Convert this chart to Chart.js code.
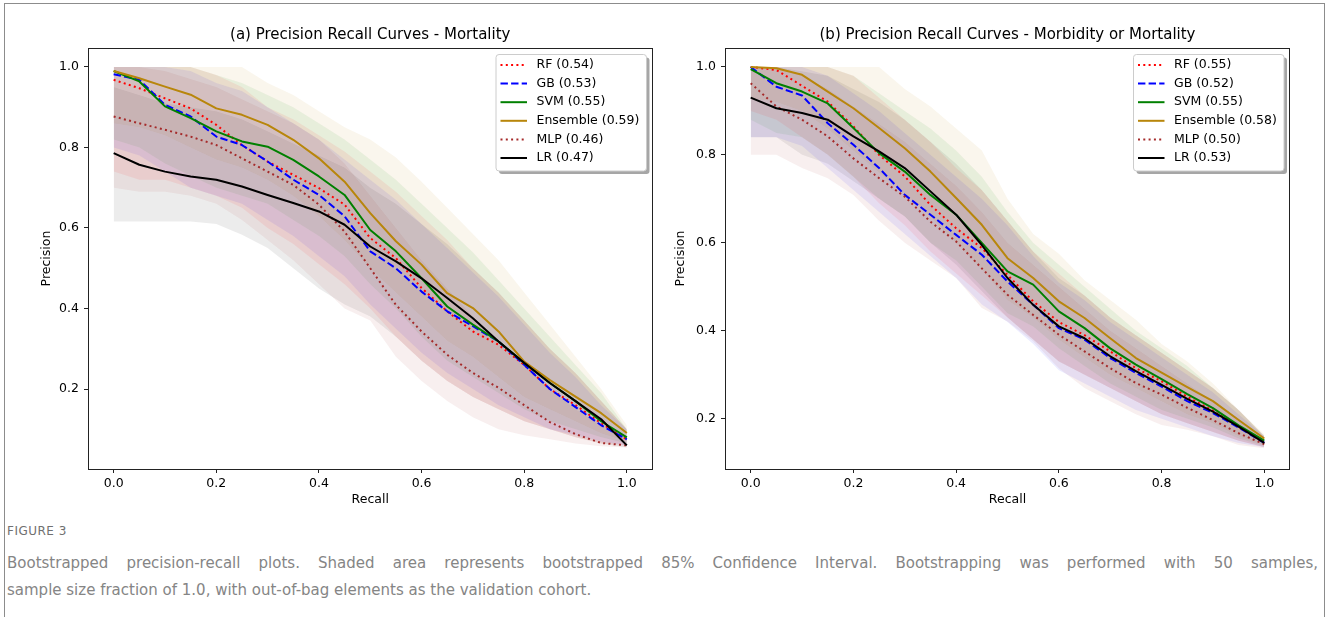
<!DOCTYPE html>
<html>
<head>
<meta charset="utf-8">
<script src="https://cdn.jsdelivr.net/npm/chart.js@4.4.1/dist/chart.umd.min.js"></script>
<style>
  body { margin: 0; background: #fff; width: 1328px; height: 617px; overflow: hidden; position: relative; }
  #frame { position: absolute; left: 4px; top: 3px; width: 1321px; height: 700px; border: 1px solid #8c8c8c; box-sizing: border-box; }
  canvas { position: absolute; top: 0; }
  #figLabel { position: absolute; left: 7px; top: 523px; font-family: "DejaVu Sans", sans-serif; font-size: 12px; line-height: 16px; color: #707070; letter-spacing: 0.5px; }
  #caption { position: absolute; left: 7px; top: 550px; width: 1311px; font-family: "DejaVu Sans", sans-serif; font-size: 15px; line-height: 27px; color: #858585; }
  #caption .l1 { text-align: justify; text-align-last: justify; white-space: nowrap; }
</style>
</head>
<body>
<div id="frame"></div>
<canvas id="chartA" width="664" height="517" style="left:0"></canvas>
<canvas id="chartB" width="664" height="517" style="left:664px"></canvas>
<div id="figLabel">FIGURE 3</div>
<div id="caption">
  <div class="l1">Bootstrapped precision-recall plots. Shaded area represents bootstrapped 85% Confidence Interval. Bootstrapping was performed with 50 samples,</div>
  <div>sample size fraction of 1.0, with out-of-bag elements as the validation cohort.</div>
</div>
<script>
// recall grid shared by every curve
const recall = [0, 0.05, 0.1, 0.15, 0.2, 0.25, 0.3, 0.35, 0.4, 0.45, 0.5, 0.55, 0.6, 0.65, 0.7, 0.75, 0.8, 0.85, 0.9, 0.95, 1.0];

const models = ['RF', 'GB', 'SVM', 'Ensemble', 'MLP', 'LR'];
const aucA = [0.54, 0.53, 0.55, 0.59, 0.46, 0.47];
const aucB = [0.55, 0.52, 0.55, 0.58, 0.50, 0.53];

// (a) Mortality - mean precision
const aRF  = [0.968, 0.947, 0.922, 0.897, 0.856, 0.806, 0.765, 0.732, 0.699, 0.658, 0.575, 0.525, 0.451, 0.393, 0.343, 0.310, 0.260, 0.200, 0.160, 0.115, 0.075];
const aGB  = [0.982, 0.968, 0.906, 0.877, 0.827, 0.806, 0.765, 0.720, 0.682, 0.629, 0.542, 0.500, 0.442, 0.393, 0.356, 0.318, 0.260, 0.200, 0.155, 0.110, 0.075];
const aSVM = [0.990, 0.964, 0.902, 0.873, 0.840, 0.815, 0.802, 0.769, 0.728, 0.682, 0.595, 0.542, 0.475, 0.405, 0.360, 0.318, 0.265, 0.215, 0.170, 0.120, 0.080];
const aEns = [0.990, 0.972, 0.951, 0.931, 0.897, 0.881, 0.856, 0.819, 0.773, 0.715, 0.637, 0.567, 0.509, 0.438, 0.401, 0.343, 0.268, 0.222, 0.181, 0.140, 0.091];
const aMLP = [0.877, 0.860, 0.844, 0.827, 0.806, 0.773, 0.740, 0.707, 0.658, 0.591, 0.500, 0.409, 0.343, 0.285, 0.240, 0.203, 0.160, 0.118, 0.088, 0.066, 0.060];
const aLR  = [0.786, 0.757, 0.740, 0.728, 0.720, 0.703, 0.682, 0.662, 0.641, 0.608, 0.554, 0.517, 0.475, 0.426, 0.376, 0.318, 0.265, 0.215, 0.170, 0.125, 0.060];

// (a) confidence bands
const aRFLo  = [0.74, 0.72, 0.72, 0.70, 0.68, 0.65, 0.60, 0.56, 0.51, 0.46, 0.40, 0.33, 0.27, 0.22, 0.18, 0.15, 0.12, 0.10, 0.08, 0.065, 0.06];
const aRFHi  = [1, 1, 1, 1, 0.98, 0.95, 0.90, 0.87, 0.83, 0.79, 0.74, 0.69, 0.63, 0.57, 0.50, 0.44, 0.37, 0.30, 0.24, 0.17, 0.10];
const aGBLo  = [0.80, 0.78, 0.74, 0.70, 0.68, 0.66, 0.62, 0.58, 0.53, 0.48, 0.41, 0.35, 0.29, 0.24, 0.20, 0.16, 0.13, 0.10, 0.085, 0.07, 0.06];
const aGBHi  = [1, 1, 1, 0.99, 0.96, 0.94, 0.90, 0.86, 0.82, 0.77, 0.72, 0.67, 0.61, 0.55, 0.49, 0.43, 0.36, 0.29, 0.23, 0.16, 0.10];
const aSVMLo = [0.82, 0.80, 0.76, 0.73, 0.70, 0.68, 0.66, 0.62, 0.58, 0.53, 0.46, 0.40, 0.33, 0.27, 0.23, 0.19, 0.15, 0.12, 0.10, 0.08, 0.065];
const aSVMHi = [1, 1, 1, 1, 0.98, 0.96, 0.93, 0.90, 0.86, 0.82, 0.77, 0.72, 0.66, 0.60, 0.54, 0.47, 0.40, 0.33, 0.26, 0.19, 0.10];
const aEnsLo = [0.86, 0.85, 0.83, 0.80, 0.77, 0.75, 0.72, 0.68, 0.63, 0.57, 0.50, 0.44, 0.38, 0.32, 0.28, 0.23, 0.18, 0.15, 0.12, 0.09, 0.07];
const aEnsHi = [1, 1, 1, 1, 1, 1, 0.96, 0.93, 0.89, 0.85, 0.82, 0.775, 0.715, 0.65, 0.585, 0.52, 0.44, 0.36, 0.28, 0.20, 0.11];
const aMLPLo = [0.70, 0.69, 0.69, 0.68, 0.66, 0.62, 0.57, 0.52, 0.46, 0.40, 0.37, 0.28, 0.22, 0.17, 0.13, 0.10, 0.085, 0.075, 0.065, 0.058, 0.055];
const aMLPHi = [1, 1, 0.99, 0.97, 0.95, 0.92, 0.89, 0.86, 0.82, 0.76, 0.68, 0.60, 0.52, 0.45, 0.38, 0.32, 0.26, 0.20, 0.15, 0.11, 0.08];
const aLRLo  = [0.616, 0.616, 0.616, 0.616, 0.61, 0.583, 0.55, 0.50, 0.45, 0.41, 0.38, 0.33, 0.27, 0.22, 0.18, 0.15, 0.12, 0.10, 0.08, 0.065, 0.055];
const aLRHi  = [0.95, 0.93, 0.91, 0.90, 0.89, 0.87, 0.84, 0.81, 0.78, 0.75, 0.70, 0.66, 0.61, 0.56, 0.50, 0.44, 0.37, 0.30, 0.24, 0.17, 0.10];

// (b) Morbidity or Mortality - mean precision
const bRF  = [1.000, 0.993, 0.957, 0.921, 0.865, 0.800, 0.751, 0.686, 0.633, 0.588, 0.527, 0.467, 0.420, 0.390, 0.353, 0.315, 0.285, 0.250, 0.218, 0.182, 0.148];
const bGB  = [1.000, 0.955, 0.935, 0.872, 0.823, 0.770, 0.709, 0.664, 0.618, 0.573, 0.512, 0.459, 0.406, 0.380, 0.338, 0.304, 0.273, 0.240, 0.213, 0.180, 0.145];
const bSVM = [0.995, 0.963, 0.944, 0.917, 0.861, 0.804, 0.762, 0.709, 0.664, 0.600, 0.535, 0.505, 0.444, 0.406, 0.360, 0.323, 0.290, 0.256, 0.224, 0.185, 0.150];
const bEns = [1.000, 0.997, 0.982, 0.944, 0.906, 0.861, 0.815, 0.762, 0.702, 0.641, 0.565, 0.520, 0.467, 0.429, 0.383, 0.338, 0.305, 0.272, 0.240, 0.197, 0.155];
const bMLP = [0.963, 0.910, 0.880, 0.842, 0.792, 0.747, 0.705, 0.648, 0.603, 0.542, 0.482, 0.436, 0.391, 0.353, 0.315, 0.281, 0.255, 0.225, 0.197, 0.167, 0.142];
const bLR  = [0.930, 0.906, 0.895, 0.880, 0.842, 0.808, 0.770, 0.717, 0.664, 0.595, 0.520, 0.459, 0.410, 0.383, 0.342, 0.308, 0.277, 0.245, 0.216, 0.182, 0.145];

// (b) confidence bands
const bRFLo  = [0.90, 0.88, 0.84, 0.80, 0.75, 0.69, 0.64, 0.58, 0.53, 0.48, 0.43, 0.38, 0.33, 0.30, 0.27, 0.24, 0.21, 0.19, 0.17, 0.15, 0.136];
const bRFHi  = [1, 1, 1, 1, 0.98, 0.93, 0.88, 0.83, 0.77, 0.72, 0.65, 0.58, 0.53, 0.48, 0.43, 0.39, 0.35, 0.31, 0.27, 0.22, 0.16];
const bGBLo  = [0.84, 0.84, 0.82, 0.77, 0.72, 0.67, 0.62, 0.57, 0.52, 0.46, 0.42, 0.37, 0.31, 0.28, 0.25, 0.22, 0.20, 0.18, 0.16, 0.145, 0.135];
const bGBHi  = [1, 1, 1, 0.98, 0.94, 0.90, 0.85, 0.80, 0.75, 0.70, 0.64, 0.57, 0.51, 0.47, 0.42, 0.38, 0.34, 0.30, 0.26, 0.21, 0.16];
const bSVMLo = [0.88, 0.85, 0.84, 0.80, 0.75, 0.70, 0.66, 0.60, 0.56, 0.50, 0.44, 0.41, 0.36, 0.32, 0.28, 0.25, 0.22, 0.20, 0.18, 0.155, 0.138];
const bSVMHi = [1, 1, 1, 1, 0.98, 0.94, 0.90, 0.86, 0.81, 0.75, 0.67, 0.60, 0.55, 0.50, 0.45, 0.40, 0.36, 0.32, 0.27, 0.22, 0.16];
const bEnsLo = [0.93, 0.92, 0.90, 0.86, 0.81, 0.76, 0.71, 0.66, 0.60, 0.54, 0.47, 0.43, 0.38, 0.34, 0.30, 0.27, 0.24, 0.21, 0.19, 0.16, 0.14];
const bEnsHi = [1, 1, 1, 1, 1, 1, 0.95, 0.91, 0.86, 0.81, 0.70, 0.62, 0.575, 0.515, 0.47, 0.425, 0.37, 0.33, 0.28, 0.22, 0.165];
const bMLPLo = [0.80, 0.80, 0.77, 0.747, 0.709, 0.65, 0.60, 0.56, 0.52, 0.452, 0.421, 0.376, 0.315, 0.27, 0.24, 0.21, 0.186, 0.175, 0.16, 0.14, 0.133];
const bMLPHi = [1, 1, 0.98, 0.95, 0.91, 0.87, 0.83, 0.78, 0.73, 0.67, 0.60, 0.55, 0.50, 0.45, 0.40, 0.36, 0.32, 0.28, 0.24, 0.20, 0.155];
const bLRLo  = [0.84, 0.84, 0.80, 0.78, 0.74, 0.70, 0.66, 0.60, 0.55, 0.49, 0.43, 0.38, 0.33, 0.30, 0.27, 0.24, 0.21, 0.19, 0.17, 0.15, 0.135];
const bLRHi  = [1, 1, 0.99, 0.98, 0.95, 0.92, 0.88, 0.83, 0.78, 0.72, 0.65, 0.58, 0.52, 0.48, 0.43, 0.39, 0.35, 0.31, 0.27, 0.22, 0.16];

const colors = ['#ff0000', '#0000ff', '#008000', '#b8860b', '#a52a2a', '#000000'];
const bandColors = ['rgba(255,0,0,0.075)', 'rgba(0,0,255,0.075)', 'rgba(0,128,0,0.075)', 'rgba(184,134,11,0.075)', 'rgba(165,42,42,0.075)', 'rgba(0,0,0,0.075)'];
const dashes = [[2, 3.3], [7.4, 3.2], [], [], [2, 3.3], []];

Chart.defaults.font.family = '"DejaVu Sans", sans-serif';
Chart.defaults.color = '#000';

function pts(ys) {
  return recall.map((r, i) => ({ x: r, y: ys[i] }));
}

// axes title drawn over the centre of the plot area, like matplotlib
const plotTitle = {
  id: 'plotTitle',
  afterDraw(chart, args, opts) {
    const { ctx, chartArea } = chart;
    ctx.save();
    ctx.font = '15px "DejaVu Sans"';
    ctx.fillStyle = '#000';
    ctx.textAlign = 'center';
    ctx.textBaseline = 'middle';
    ctx.fillText(opts.text, (chartArea.left + chartArea.right) / 2, 35);
    ctx.restore();
  }
};

// four spines + legend box in the upper right corner
const frameAndLegend = {
  id: 'frameAndLegend',
  afterDatasetsDraw(chart) {
    const { ctx, chartArea } = chart;
    ctx.save();
    ctx.strokeStyle = '#222';
    ctx.lineWidth = 1;
    ctx.strokeRect(Math.round(chartArea.left) + 0.5, Math.round(chartArea.top) + 0.5,
      Math.round(chartArea.right - chartArea.left) - 1, Math.round(chartArea.bottom - chartArea.top));
    ctx.restore();
  },
  afterDraw(chart, args, opts) {
    const { ctx, chartArea } = chart;
    const w = 150.5, h = 116.5;
    const x = chartArea.right - 6 - w, y = chartArea.top + 6.5;
    ctx.save();
    ctx.fillStyle = 'rgba(0,0,0,0.35)';
    ctx.beginPath(); ctx.roundRect(x + 3, y + 3, w, h, 3); ctx.fill();
    ctx.fillStyle = '#fff';
    ctx.strokeStyle = '#cccccc';
    ctx.lineWidth = 1;
    ctx.beginPath(); ctx.roundRect(x, y, w, h, 3); ctx.fill(); ctx.stroke();
    ctx.font = '12.5px "DejaVu Sans"';
    ctx.textBaseline = 'middle';
    ctx.textAlign = 'left';
    opts.labels.forEach((label, i) => {
      const cy = y + 10.5 + i * 18.6;
      ctx.strokeStyle = colors[i];
      ctx.lineWidth = 2;
      ctx.setLineDash(dashes[i]);
      ctx.beginPath(); ctx.moveTo(x + 4.5, cy); ctx.lineTo(x + 31, cy); ctx.stroke();
      ctx.fillStyle = '#000';
      ctx.fillText(label, x + 40.5, cy);
    });
    ctx.restore();
  }
};

function makeChart(id, title, lines, bands, auc, yMin, yMax, yWidth, yTitlePad, padRight) {
  const datasets = [];
  bands.forEach((b, i) => {
    datasets.push({ data: pts(b[0]), borderWidth: 0, pointRadius: 0, fill: false, order: 10 });
    datasets.push({ data: pts(b[1]), borderWidth: 0, pointRadius: 0, fill: '-1', backgroundColor: bandColors[i], order: 10 });
  });
  lines.forEach((ys, i) => {
    datasets.push({
      data: pts(ys),
      borderColor: colors[i],
      borderWidth: 2,
      borderDash: dashes[i],
      borderJoinStyle: 'round',
      pointRadius: 0,
      tension: 0,
      fill: false,
      order: 6 - i
    });
  });

  return new Chart(document.getElementById(id).getContext('2d'), {
    type: 'line',
    data: { datasets: datasets },
    options: {
      responsive: false,
      animation: false,
      devicePixelRatio: 1,
      layout: { padding: { top: 48, right: padRight, bottom: 0, left: 0 } },
      plugins: {
        legend: { display: false },
        tooltip: { enabled: false },
        plotTitle: { text: title },
        frameAndLegend: { labels: models.map((m, i) => m + ' (' + auc[i].toFixed(2) + ')') }
      },
      scales: {
        x: {
          type: 'linear',
          min: -0.05,
          max: 1.05,
          ticks: { stepSize: 0.2, includeBounds: false, padding: 3, maxRotation: 0, font: { size: 12.5 }, callback: v => v.toFixed(1) },
          grid: { drawOnChartArea: false, tickLength: 4, color: '#222' },
          border: { display: false },
          title: { display: true, text: 'Recall', font: { size: 12.5 }, padding: { top: 0, bottom: 9.5 } },
          afterFit: s => { s.height = 48; }
        },
        y: {
          min: yMin,
          max: yMax,
          ticks: { stepSize: 0.2, includeBounds: false, padding: 5, font: { size: 12.5 }, callback: v => v.toFixed(1) },
          grid: { drawOnChartArea: false, tickLength: 4, color: '#222' },
          border: { display: false },
          title: { display: true, text: 'Precision', font: { size: 12.5 }, padding: { top: yTitlePad, bottom: 0 } },
          afterFit: s => { s.width = yWidth; }
        }
      }
    },
    plugins: [plotTitle, frameAndLegend]
  });
}

makeChart('chartA', '(a) Precision Recall Curves - Mortality',
  [aRF, aGB, aSVM, aEns, aMLP, aLR],
  [[aRFLo, aRFHi], [aGBLo, aGBHi], [aSVMLo, aSVMHi], [aEnsLo, aEnsHi], [aMLPLo, aMLPHi], [aLRLo, aLRHi]],
  aucA, 0.0014, 1.047, 88, 39.5, 11.5);

makeChart('chartB', '(b) Precision Recall Curves - Morbidity or Mortality',
  [bRF, bGB, bSVM, bEns, bMLP, bLR],
  [[bRFLo, bRFHi], [bGBLo, bGBHi], [bSVMLo, bSVMHi], [bEnsLo, bEnsHi], [bMLPLo, bMLPHi], [bLRLo, bLRHi]],
  aucB, 0.0857, 1.043, 61, 9.5, 38);
</script>
</body>
</html>
